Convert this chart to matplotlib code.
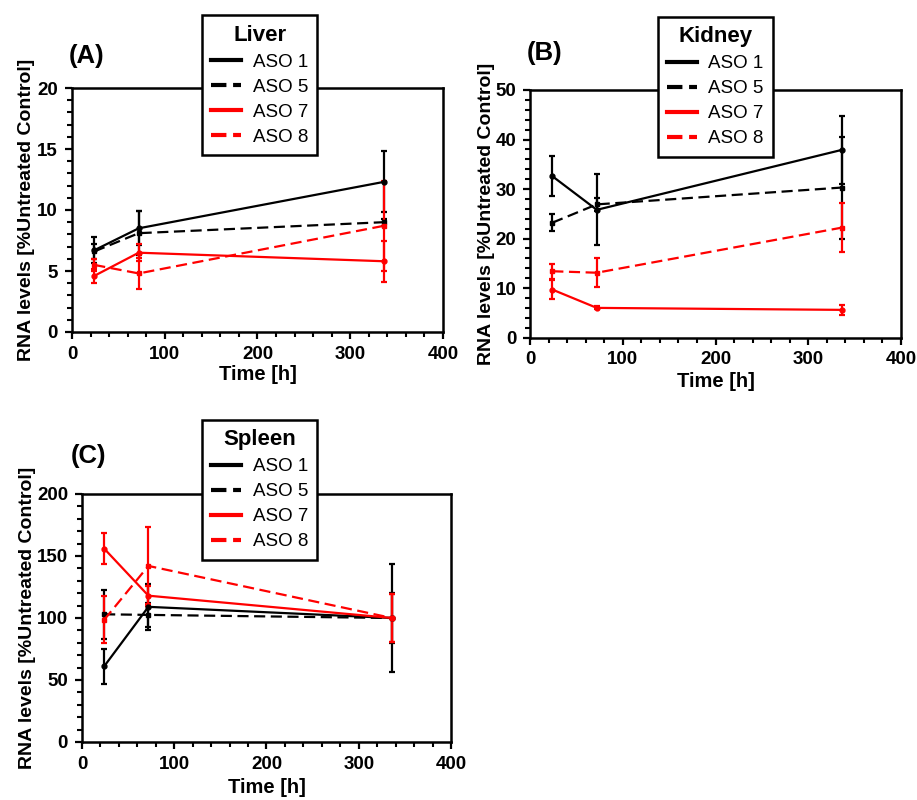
import matplotlib
matplotlib.use("Agg")
import matplotlib.pyplot as plt
from matplotlib.lines import Line2D
from matplotlib.ticker import AutoMinorLocator, MultipleLocator

plt.rcParams['font.family'] = ['Liberation Sans', 'DejaVu Sans']

time_h = [24, 72, 336]
series_names = ["ASO 1", "ASO 5", "ASO 7", "ASO 8"]

# Liver
liver_aso1 = [6.7, 8.5, 12.3]
liver_aso1_err = [1.05, 1.4, 2.5]
liver_aso5 = [6.6, 8.1, 9.0]
liver_aso5_err = [0.6, 1.8, 0.3]
liver_aso7 = [4.6, 6.5, 5.8]
liver_aso7_err = [0.6, 0.7, 1.7]
liver_aso8 = [5.5, 4.8, 8.7]
liver_aso8_err = [0.5, 1.3, 3.7]

# Kidney
kidney_aso1 = [32.6, 25.8, 37.9]
kidney_aso1_err = [4.1, 7.2, 6.8]
kidney_aso5 = [23.2, 26.9, 30.3]
kidney_aso5_err = [1.7, 1.3, 10.3]
kidney_aso7 = [9.7, 6.0, 5.6]
kidney_aso7_err = [1.9, 0.3, 1.0]
kidney_aso8 = [13.4, 13.1, 22.2]
kidney_aso8_err = [1.5, 2.9, 5.0]

# Spleen
spleen_aso1 = [61, 109, 100]
spleen_aso1_err = [14, 18.5, 43.5]
spleen_aso5 = [103, 102.5, 100]
spleen_aso5_err = [19.6, 10, 20]
spleen_aso7 = [156, 118, 100]
spleen_aso7_err = [12.4, 8, 19]
spleen_aso8 = [98.5, 142, 100]
spleen_aso8_err = [19, 31, 19]

colors = ["black", "black", "#ff0000", "#ff0000"]
styles = ["-", "--", "-", "--"]
markers = ["o", "s", "o", "s"]

fig = plt.figure(figsize=(9.17, 8.0), dpi=100)

panels = [
    dict(rect=[0.0785, 0.585, 0.4045, 0.305], ymax=20, ystep=5, title="Liver", label="(A)",
         data=[(liver_aso1, liver_aso1_err), (liver_aso5, liver_aso5_err),
               (liver_aso7, liver_aso7_err), (liver_aso8, liver_aso8_err)],
         leg=(0.2203, 0.981), lab=(0.075, 0.9306), ylab_x=-0.1, xlab_y=-0.135),
    dict(rect=[0.578, 0.578, 0.4046, 0.3095], ymax=50, ystep=10, title="Kidney", label="(B)",
         data=[(kidney_aso1, kidney_aso1_err), (kidney_aso5, kidney_aso5_err),
               (kidney_aso7, kidney_aso7_err), (kidney_aso8, kidney_aso8_err)],
         leg=(0.7172, 0.979), lab=(0.574, 0.934), ylab_x=-0.095, xlab_y=-0.14),
    dict(rect=[0.0894, 0.0725, 0.4024, 0.31], ymax=200, ystep=50, title="Spleen", label="(C)",
         data=[(spleen_aso1, spleen_aso1_err), (spleen_aso5, spleen_aso5_err),
               (spleen_aso7, spleen_aso7_err), (spleen_aso8, spleen_aso8_err)],
         leg=(0.2203, 0.475), lab=(0.077, 0.4294), ylab_x=-0.125, xlab_y=-0.145),
]

for p in panels:
    ax = fig.add_axes(p["rect"])
    for (vals, errs), c, ls, mk in zip(p["data"], colors, styles, markers):
        ax.errorbar(time_h, vals, yerr=errs, color=c, linestyle=ls, linewidth=1.6,
                    marker=mk, markersize=3.5, capsize=2.5, elinewidth=1.6,
                    capthick=1.6, dashes=(5, 2.5) if ls == "--" else (None, None))
    ax.set_xlim(0, 400)
    ax.set_ylim(0, p["ymax"])
    ax.xaxis.set_major_locator(MultipleLocator(100))
    ax.yaxis.set_major_locator(MultipleLocator(p["ystep"]))
    ax.xaxis.set_minor_locator(AutoMinorLocator(5))
    ax.yaxis.set_minor_locator(AutoMinorLocator(5))
    for s in ax.spines.values():
        s.set_linewidth(1.8)
    ax.tick_params(which="major", direction="out", length=5, width=1.6,
                   labelsize=13.5, pad=5)
    ax.tick_params(which="minor", direction="out", length=3.5, width=1.5)
    for t in ax.get_xticklabels() + ax.get_yticklabels():
        t.set_fontweight("bold")
    ax.set_xlabel("Time [h]", fontsize=14.5, fontweight="bold")
    ax.set_ylabel("RNA levels [%Untreated Control]", fontsize=14, fontweight="bold")
    ax.yaxis.set_label_coords(p["ylab_x"], 0.5)
    ax.xaxis.set_label_coords(0.5, p["xlab_y"])

    handles = [Line2D([0], [0], color=c, linestyle=ls, linewidth=3)
               for c, ls in zip(colors, styles)]
    leg = ax.legend(handles, series_names, title=p["title"], loc="upper left",
                    bbox_to_anchor=p["leg"], bbox_transform=fig.transFigure,
                    borderaxespad=0, fontsize=13.5,
                    title_fontproperties={"weight": "bold", "size": 16},
                    frameon=True, fancybox=False, framealpha=1, edgecolor="black",
                    handlelength=1.6, handletextpad=0.6, labelspacing=0.42,
                    borderpad=0.5)
    leg.get_frame().set_linewidth(1.8)
    leg.set_zorder(10)
    fig.text(p["lab"][0], p["lab"][1], p["label"], fontsize=18.5, fontweight="bold",
             ha="left", va="center")

fig.savefig("out.png", dpi=100)
